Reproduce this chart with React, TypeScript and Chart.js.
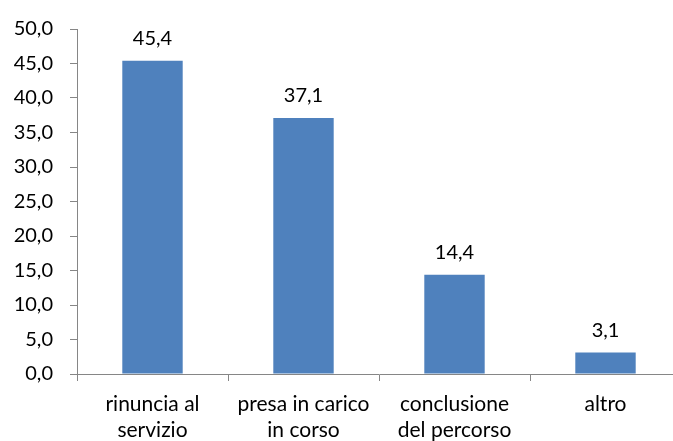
import React, { useEffect, useRef } from "react";
import { Chart, registerables } from "chart.js";

Chart.register(...registerables);

const categories: string[][] = [
  ["rinuncia al", "servizio"],
  ["presa in carico", "in corso"],
  ["conclusione", "del percorso"],
  ["altro"],
];
const values: number[] = [45.4, 37.1, 14.4, 3.1];
const yTicks: number[] = [0, 5, 10, 15, 20, 25, 30, 35, 40, 45, 50];

const FONT = "Lato";
const fmt = (v: number) => v.toFixed(1).replace(".", ",");

const dataLabels = {
  id: "dataLabels",
  afterDatasetsDraw(chart: any) {
    const ctx = chart.ctx;
    const meta = chart.getDatasetMeta(0);
    ctx.save();
    ctx.font = `20px ${FONT}`;
    ctx.fillStyle = "#000";
    ctx.textAlign = "center";
    ctx.textBaseline = "alphabetic";
    meta.data.forEach((bar: any, i: number) => {
      ctx.fillText(fmt(values[i]), bar.x, bar.y - 16);
    });
    ctx.restore();
  },
};

export default function App() {
  const ref = useRef<HTMLCanvasElement>(null);
  useEffect(() => {
    document.body.style.margin = "0";
    document.body.style.overflow = "hidden";
    const chart = new Chart(ref.current!, {
      type: "bar",
      data: {
        labels: categories,
        datasets: [
          {
            data: values,
            backgroundColor: "#4F81BD",
            borderWidth: 0,
            barPercentage: 0.4,
            categoryPercentage: 1,
          },
        ],
      },
      options: {
        responsive: false,
        animation: false,
        layout: { padding: { top: 26, right: 19, left: 0, bottom: 0 } },
        plugins: { legend: { display: false }, tooltip: { enabled: false } },
        scales: {
          x: {
            grid: {
              display: true,
              drawOnChartArea: false,
              tickLength: 7,
              color: "#868686",
              offset: true,
            },
            border: { color: "#868686", width: 1 },
            ticks: {
              color: "#000",
              font: { family: FONT, size: 21, lineHeight: 1.24 },
              padding: 10,
              maxRotation: 0,
              autoSkip: false,
            },
            afterFit: (s: any) => {
              s.height = 67;
            },
          },
          y: {
            min: 0,
            max: 50,
            afterBuildTicks: (s: any) => {
              s.ticks = yTicks.map((v) => ({ value: v }));
            },
            grid: {
              display: true,
              drawOnChartArea: false,
              tickLength: 7,
              color: "#868686",
            },
            border: { color: "#868686", width: 1 },
            ticks: {
              color: "#000",
              font: { family: FONT, size: 20 },
              padding: 17,
              callback: (v: any) => fmt(Number(v)),
            },
            afterFit: (s: any) => {
              s.width = 77;
            },
          },
        },
      },
      plugins: [dataLabels],
    });
    return () => chart.destroy();
  }, []);
  return (
    <div style={{ width: 673, height: 441, overflow: "hidden", background: "#fff" }}>
      <canvas ref={ref} width={700} height={441} style={{ width: 700, height: 441, display: "block" }} />
    </div>
  );
}
